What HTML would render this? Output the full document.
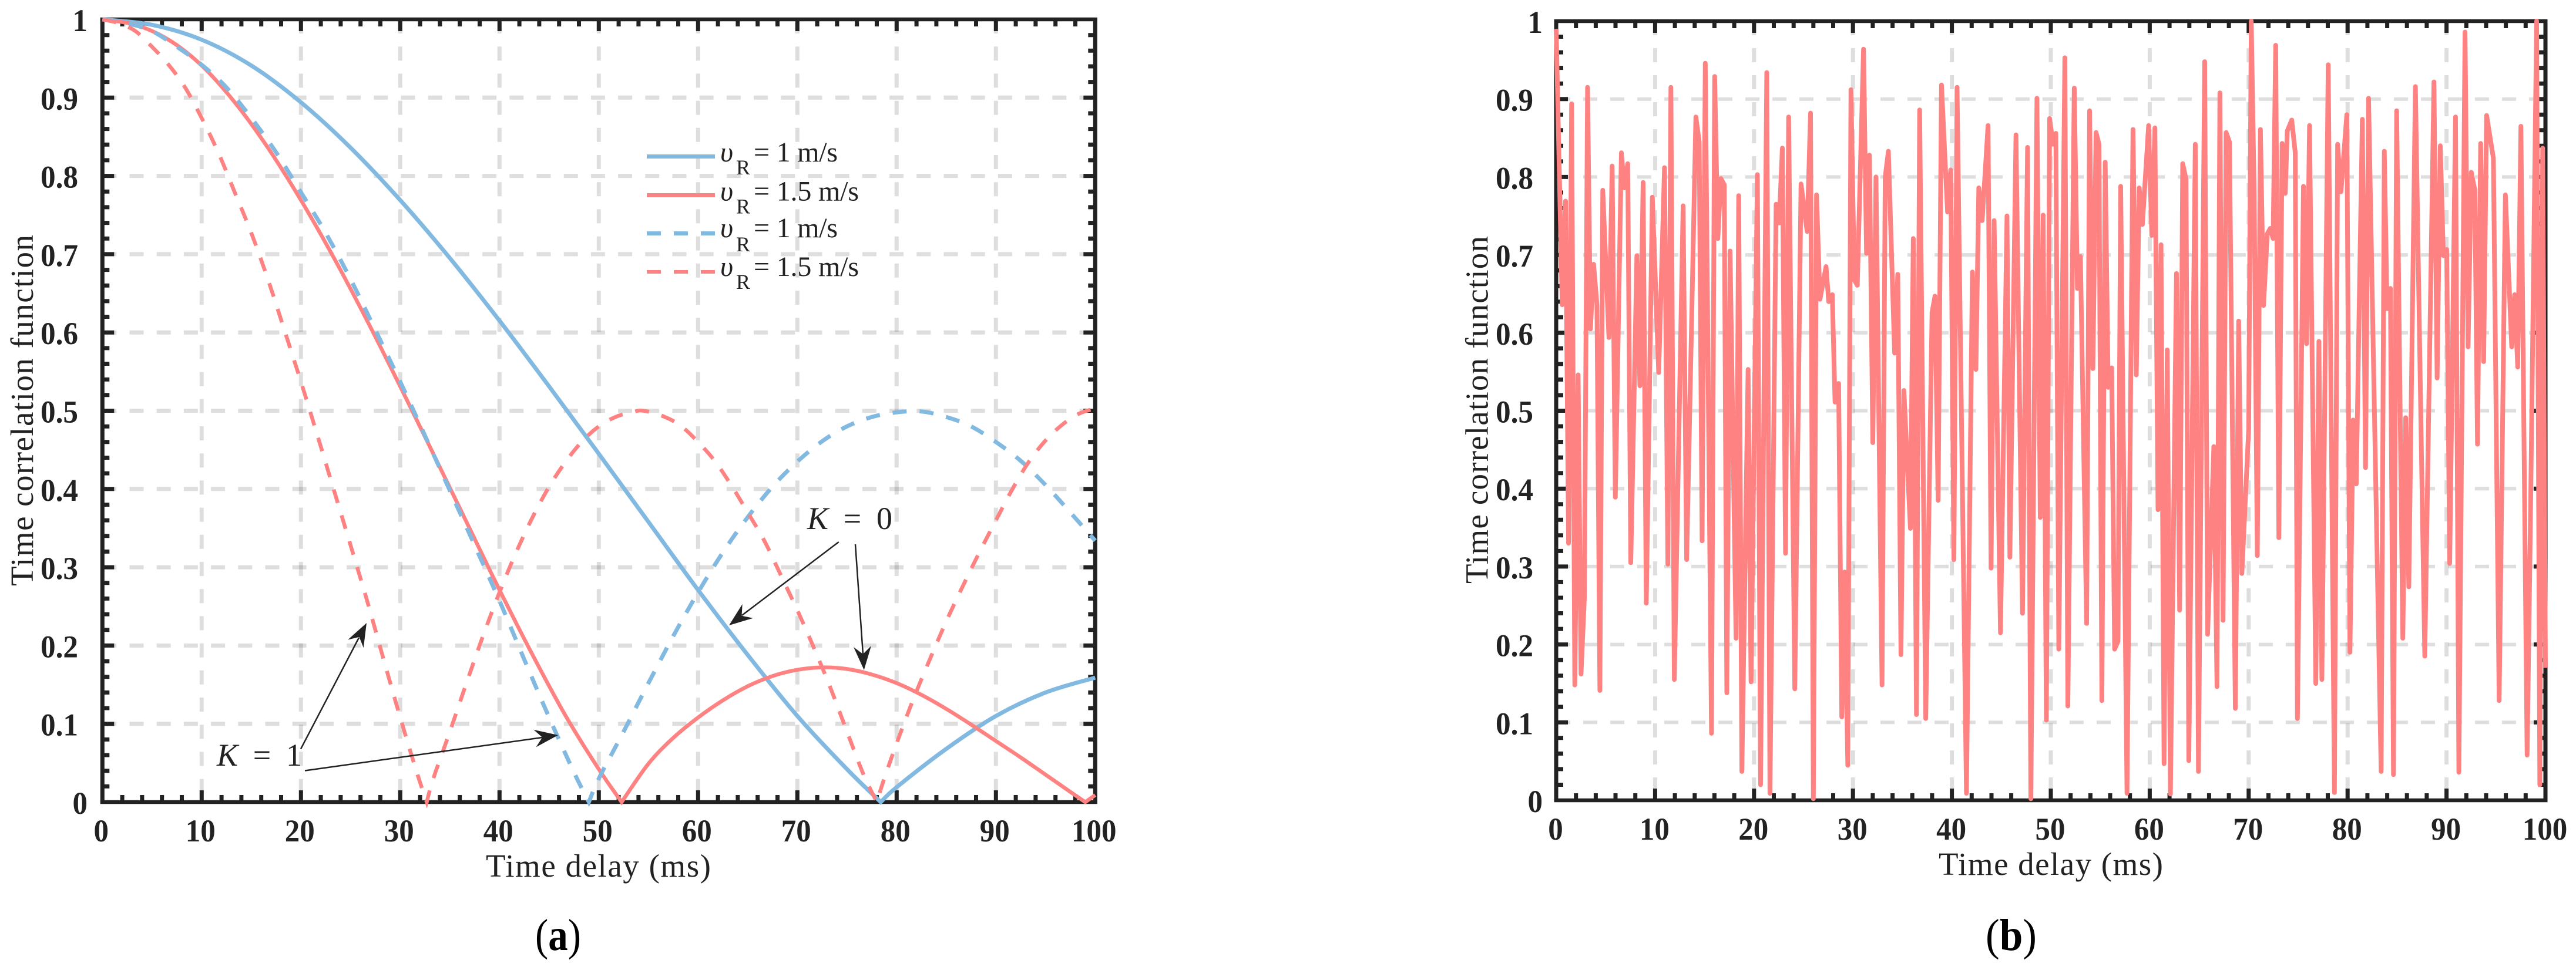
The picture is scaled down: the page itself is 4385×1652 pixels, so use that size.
<!DOCTYPE html>
<html lang="en">
<head>
<meta charset="utf-8">
<title>Time correlation function charts</title>
<style>
html,body{margin:0;padding:0;background:#fff;}
svg{display:block;}
text{font-family:"Liberation Serif",serif;fill:#222;}
.tick{font-weight:bold;font-size:54px;}
.axt{font-size:55px;}
.leg{font-size:48px;}
.sub{font-size:36px;}
.ann{font-size:54px;}
.cap{font-size:76px;fill:#000;font-weight:bold;}
</style>
</head>
<body>
<svg id="fig" xmlns="http://www.w3.org/2000/svg" width="4385" height="1652" viewBox="0 0 4385 1652">
  <rect x="0" y="0" width="4385" height="1652" fill="#fff"/>
  <g id="plotA"></g>
  <g id="plotB"></g>

  <g>
    <g>
      <line x1="1101" x2="1217" y1="266.5" y2="266.5" stroke="#82b9e1" stroke-width="7"/>
      <text class="leg" font-style="italic" x="1226" y="275">υ</text><text class="sub" x="1253" y="297">R</text>
      <text class="leg" x="1283" y="275" textLength="143" lengthAdjust="spacing">= 1 m/s</text>
    </g>
    <g>
      <line x1="1101" x2="1217" y1="332.5" y2="332.5" stroke="#ff8282" stroke-width="7"/>
      <text class="leg" font-style="italic" x="1226" y="341.5">υ</text><text class="sub" x="1253" y="363.5">R</text>
      <text class="leg" x="1283" y="341.5" textLength="179" lengthAdjust="spacing">= 1.5 m/s</text>
    </g>
    <g>
      <line x1="1101" x2="1217" y1="397.5" y2="397.5" stroke="#82b9e1" stroke-width="7" stroke-dasharray="24 22"/>
      <text class="leg" font-style="italic" x="1226" y="404">υ</text><text class="sub" x="1253" y="428">R</text>
      <text class="leg" x="1283" y="404" textLength="143" lengthAdjust="spacing">= 1 m/s</text>
    </g>
    <g>
      <line x1="1101" x2="1217" y1="463" y2="463" stroke="#ff8282" stroke-width="6" stroke-dasharray="24 22"/>
      <text class="leg" font-style="italic" x="1226" y="470">υ</text><text class="sub" x="1253" y="492">R</text>
      <text class="leg" x="1283" y="470" textLength="179" lengthAdjust="spacing">= 1.5 m/s</text>
    </g>
  </g>

  <g>
    <text class="ann" x="369" y="1304" textLength="145" lengthAdjust="spacing"><tspan font-style="italic">K</tspan> = 1</text>
    <text class="ann" x="1374" y="901" textLength="145" lengthAdjust="spacing"><tspan font-style="italic">K</tspan> = 0</text>
    <g>
      <line x1="512" y1="1275.5" x2="611" y2="1086" stroke="#222" stroke-width="2.5"/>
      <polygon points="624,1061 618.8,1103.3 611.5,1084.9 592.2,1089.5" fill="#222"/>
    </g>
    <g>
      <line x1="519" y1="1312.5" x2="923" y2="1256" stroke="#222" stroke-width="2.5"/>
      <polygon points="950,1252 912.5,1272.4 923.2,1255.8 908.3,1242.7" fill="#222"/>
    </g>
    <g>
      <line x1="1427.7" y1="923" x2="1263" y2="1048" stroke="#222" stroke-width="2.5"/>
      <polygon points="1241,1065 1281.9,1052.7 1262.5,1048.7 1263.7,1028.9" fill="#222"/>
    </g>
    <g>
      <line x1="1456" y1="927" x2="1469" y2="1114" stroke="#222" stroke-width="2.5"/>
      <polygon points="1470.8,1141 1483,1100 1469,1114 1453,1102" fill="#222"/>
    </g>
  </g>

  <text class="axt" x="827" y="1493" textLength="383" lengthAdjust="spacing">Time delay (ms)</text>
  <text class="axt" x="3300" y="1490" textLength="382" lengthAdjust="spacing">Time delay (ms)</text>
  <text class="axt" x="56" y="699" transform="rotate(-90 56 699)" text-anchor="middle" textLength="598" lengthAdjust="spacing">Time correlation function</text>
  <text class="axt" x="2532.7" y="698" transform="rotate(-90 2532.7 698)" text-anchor="middle" textLength="592" lengthAdjust="spacing">Time correlation function</text>
  <text class="cap" x="911" y="1618" textLength="78" lengthAdjust="spacingAndGlyphs"><tspan font-weight="normal">(</tspan>a<tspan font-weight="normal">)</tspan></text>
  <text class="cap" x="3380" y="1618" textLength="87" lengthAdjust="spacingAndGlyphs"><tspan font-weight="normal">(</tspan>b<tspan font-weight="normal">)</tspan></text>
</svg>

<script>
// ---- shared tick data ----
const xTickValues = [0,10,20,30,40,50,60,70,80,90,100];
const xTickLabels = ["0","10","20","30","40","50","60","70","80","90","100"];
const yTickValues = [0,0.1,0.2,0.3,0.4,0.5,0.6,0.7,0.8,0.9,1];
const yTickLabels = ["0","0.1","0.2","0.3","0.4","0.5","0.6","0.7","0.8","0.9","1"];

// ---- plot (a) series ----
const blueSolidDelay = [0,5,10,15,20,25,30,35,40,45,50,55,60,65,70,75,78.4,80,85,90,95,100];
const blueSolidValue = [1,0.993,0.974,0.941,0.894,0.836,0.769,0.695,0.615,0.531,0.445,0.358,0.271,0.188,0.11,0.042,0,0.019,0.068,0.11,0.14,0.159];

const redSolidDelay = [0,3.33,6.67,10,13.33,16.67,20,23.33,26.67,30,33.33,36.67,40,43.33,46.67,50,52.3,55,57.5,60,62.5,65,67.5,70,72.5,75,77.5,80,82.5,85,87.5,90,92.5,95,97.5,99,100];
const redSolidValue = [1,0.993,0.974,0.941,0.894,0.836,0.769,0.695,0.615,0.531,0.445,0.358,0.271,0.188,0.11,0.042,0,0.049,0.082,0.108,0.13,0.148,0.161,0.169,0.172,0.17,0.163,0.152,0.137,0.119,0.099,0.078,0.057,0.035,0.013,0,0.009];

const blueDashDelay = [0,2.5,5,7.5,10,12.5,15,17.5,20,22.5,25,27.5,30,32.5,35,37.5,40,42.5,45,47.5,49,50,52.5,55,57.5,60,62.5,65,67.5,70,72.5,75,77.5,80,82.5,85,87.5,90,92.5,95,97.5,100];
const blueDashValue = [1,0.995,0.985,0.965,0.942,0.913,0.874,0.83,0.779,0.727,0.668,0.603,0.537,0.468,0.398,0.328,0.257,0.182,0.108,0.038,0,0.03,0.09,0.152,0.212,0.268,0.319,0.364,0.403,0.435,0.461,0.48,0.492,0.498,0.499,0.492,0.48,0.46,0.436,0.405,0.37,0.334];

const redDashDelay = [0,1.67,3.33,5,6.67,8.33,10,11.67,13.33,15,16.67,18.33,20,21.67,23.33,25,26.67,28.33,30,31.67,32.67,33.33,35,36.67,38.33,40,41.67,43.33,45,46.67,48.33,50,51.67,53.33,54.5,56.67,58.33,60,61.67,63.33,65,66.67,68.33,70,71.67,73.33,75,76.67,78,78.7,80,81.67,83.33,85,86.67,88.33,90,91.67,93.33,95,96.67,98.33,100];
const redDashValue = [1,0.995,0.985,0.965,0.942,0.913,0.874,0.83,0.779,0.727,0.668,0.603,0.537,0.468,0.398,0.328,0.257,0.182,0.108,0.038,0,0.03,0.09,0.152,0.212,0.268,0.319,0.364,0.403,0.435,0.461,0.48,0.492,0.498,0.5,0.492,0.48,0.46,0.436,0.405,0.37,0.334,0.29,0.245,0.197,0.146,0.09,0.035,0,0.028,0.075,0.131,0.182,0.231,0.276,0.319,0.36,0.4,0.435,0.462,0.482,0.496,0.503];

// ---- plot (b) series ----
const noiseDelay = [0,0.61,0.95,1.25,1.56,1.88,2.22,2.51,2.85,3.17,3.47,3.78,4.12,4.42,4.71,5.33,5.66,5.98,6.59,6.89,7.23,7.54,8.16,8.46,8.79,9.11,9.72,10.36,10.95,11.29,11.6,11.94,12.83,13.19,14.12,14.46,14.75,15.07,15.7,16.02,16.34,16.65,16.99,17.25,17.58,18.18,
18.45,18.77,19.4,19.7,20.34,20.66,21.29,21.61,22.23,22.54,22.86,23.18,23.5,24.12,24.75,25.37,25.71,26,26.32,26.66,27.28,27.55,27.91,28.19,28.55,28.87,29.16,29.48,29.8,30.14,30.44,31.07,31.37,31.67,32.01,32.33,32.94,33.26,33.58,34.21,34.53,34.85,35.15,35.81,36.1,36.42,36.74,37.36,37.99,38.29,38.61,38.95,39.56,39.88,40.2,40.52,41.47,42.07,42.43,42.72,43.06,43.66,43.96,44.27,44.91,45.57,45.86,46.48,47.14,
47.65,47.98,48.6,48.93,49.23,49.55,49.88,50.22,50.51,50.81,51.42,51.72,52.37,52.69,52.99,53.62,53.92,54.25,54.57,54.87,55.16,55.5,55.8,56.15,56.45,56.79,57.06,57.7,58.31,58.64,58.94,59.26,59.89,60.21,60.52,60.84,61.14,61.45,61.77,62.09,62.7,63.02,63.33,63.67,63.95,64.6,64.92,65.55,65.85,66.48,66.8,67.09,67.41,67.72,68.06,68.65,68.99,69.31,70,70.26,70.55,70.87,71.19,71.5,71.88,72.18,72.47,72.73,73.05,73.38,73.7,73.9,74.35,74.71,74.93,
75.54,75.85,76.15,76.79,77.1,77.4,78.04,78.67,78.99,79.33,79.92,80.24,80.56,80.87,81.49,81.81,82.12,83.39,83.71,83.99,84.33,84.64,84.96,85.58,85.87,86.19,86.85,87.8,88.73,89.05,89.37,89.68,90.02,90.32,90.91,91.25,91.87,92.18,92.5,92.86,93.13,93.45,93.75,94.05,94.74,95.32,95.95,96.59,96.88,97.2,97.52,98.15,98.47,99.11,99.43,99.72,100];
const noiseValue = [0.99,0.636,0.769,0.33,0.894,0.148,0.546,0.162,0.26,0.915,0.605,0.688,0.636,0.141,0.783,0.594,0.814,0.389,0.831,0.786,0.817,0.305,0.699,0.532,0.793,0.253,0.774,0.549,0.812,0.303,0.915,0.155,0.763,0.309,0.877,0.845,0.333,0.946,0.086,0.929,0.721,0.798,0.79,0.138,0.705,0.208,
0.776,0.037,0.553,0.152,0.803,0.02,0.934,0.009,0.765,0.741,0.837,0.317,0.877,0.143,0.791,0.73,0.882,0.002,0.777,0.643,0.685,0.64,0.649,0.511,0.535,0.107,0.293,0.045,0.912,0.668,0.661,0.964,0.702,0.828,0.459,0.8,0.148,0.8,0.833,0.574,0.675,0.187,0.526,0.349,0.721,0.11,0.886,0.105,0.626,0.647,0.385,0.918,0.755,0.809,0.309,0.915,0.009,0.678,0.553,0.786,0.744,0.866,0.298,0.744,0.215,0.75,0.312,0.854,0.24,
0.838,0.002,0.901,0.363,0.751,0.103,0.875,0.842,0.856,0.194,0.953,0.121,0.914,0.657,0.698,0.227,0.885,0.554,0.857,0.842,0.128,0.819,0.53,0.555,0.194,0.204,0.788,0.009,0.861,0.546,0.786,0.739,0.866,0.725,0.863,0.373,0.713,0.047,0.578,0.008,0.676,0.244,0.817,0.797,0.051,0.842,0.037,0.948,0.213,0.454,0.146,0.908,0.231,0.857,0.845,0.118,0.615,0.291,0.476,1,0.783,0.314,0.861,0.635,0.727,0.734,0.721,0.969,0.337,0.843,0.779,0.859,0.873,0.831,0.105,
0.788,0.586,0.866,0.15,0.589,0.155,0.944,0.01,0.842,0.781,0.88,0.19,0.488,0.406,0.874,0.427,0.901,0.037,0.833,0.631,0.657,0.033,0.885,0.208,0.491,0.274,0.916,0.185,0.922,0.542,0.84,0.699,0.707,0.304,0.877,0.036,0.986,0.582,0.806,0.783,0.457,0.843,0.563,0.879,0.824,0.128,0.777,0.582,0.649,0.556,0.865,0.058,0.344,1,0.02,0.837,0.17];

// ---- axis functions ----
function xA(v){ return 174.3 + 16.9 * v; }
function yA(v){ return 1366 - 1333 * v; }
function xB(v){ return 2649 + 16.84 * v; }
function yB(v){ return 1363 - 1327 * v; }

const NS = "http://www.w3.org/2000/svg";
const INK = "#222";
const BLUE = "#82b9e1";
const RED = "#ff8282";

function mk(parent, tag, attrs, txt){
  const el = document.createElementNS(NS, tag);
  for (const k in attrs) el.setAttribute(k, attrs[k]);
  if (txt !== undefined) el.textContent = txt;
  parent.appendChild(el);
  return el;
}

// smooth path through points, breaking at zero-crossing cusps
function smoothPath(xs, ys, fx, fy){
  const pts = xs.map((x,i)=>[fx(x), fy(ys[i]), ys[i]]);
  let d = "M" + pts[0][0].toFixed(1) + " " + pts[0][1].toFixed(1);
  for (let i=0;i<pts.length-1;i++){
    const p1=pts[i], p2=pts[i+1];
    const p0 = (i===0 || p1[2]===0) ? p1 : pts[i-1];
    const p3 = (i+2>=pts.length || p2[2]===0) ? p2 : pts[i+2];
    const c1x=p1[0]+(p2[0]-p0[0])/6, c1y=p1[1]+(p2[1]-p0[1])/6;
    const c2x=p2[0]-(p3[0]-p1[0])/6, c2y=p2[1]-(p3[1]-p1[1])/6;
    d += "C"+c1x.toFixed(1)+" "+c1y.toFixed(1)+" "+c2x.toFixed(1)+" "+c2y.toFixed(1)+" "+p2[0].toFixed(1)+" "+p2[1].toFixed(1);
  }
  return d;
}

function tickLabelWidth(s){
  let w = 0;
  for (const c of s) w += (c === ".") ? 13 : 25.5;
  return w;
}

function drawFrame(g, fx, fy, period, opts){
  const x0=fx(0), x1=fx(100), y0=fy(0), y1=fy(1);
  const dash = "24 " + (period-24).toFixed(1);

  // grid
  xTickValues.forEach((t)=>{
    if (t===0 || t===100) return;
    const l = mk(g,"line",{x1:fx(t),x2:fx(t),y1:y1,y2:y0,stroke:"#000","stroke-opacity":"0.13","stroke-width":7,"stroke-dasharray":dash});
    
    
  });
  yTickValues.forEach((t)=>{
    if (t===0 || t===1) return;
    const l = mk(g,"line",{x1:x0,x2:x1,y1:fy(t),y2:fy(t),stroke:"#000","stroke-opacity":"0.13","stroke-width":opts.hGrid,"stroke-dasharray":dash});
    
    
  });

  // frame
  const frame = mk(g,"path",{d:"M"+(x0-3.5)+" "+y1+"H"+(x1+3.5)+"M"+(x0-3.5)+" "+y0+"H"+(x1+3.5),stroke:INK,"stroke-width":6.5,fill:"none"});
  
  
  const frameV = mk(g,"path",{d:"M"+x0+" "+(y1-3)+"V"+(y0+3)+"M"+x1+" "+(y1-3)+"V"+(y0+3),stroke:INK,"stroke-width":7,fill:"none"});
  
  

  // x ticks: every 2 ms, long every 10 ms, on both horizontal edges
  let d = "";
  for (let i=1;i<50;i++){
    const v=i*2, len=(i%5===0)?20:12, px=fx(v).toFixed(1);
    d += "M"+px+" "+y0+"V"+(y0-len)+"M"+px+" "+y1+"V"+(y1+len);
  }
  const xt = mk(g,"path",{d:d,stroke:INK,"stroke-width":7,fill:"none"});
  
  

  // y ticks: every 0.02, long every 0.1, on both vertical edges
  d = "";
  for (let i=1;i<50;i++){
    const v=i*0.02, len=(i%5===0)?20:12, py=fy(v).toFixed(1);
    d += "M"+x0+" "+py+"H"+(x0+len)+"M"+x1+" "+py+"H"+(x1-len);
  }
  const yt = mk(g,"path",{d:d,stroke:INK,"stroke-width":7,fill:"none"});
  
  

  // tick labels
  xTickValues.forEach((t,i)=>{
    const s = xTickLabels[i];
    const el = mk(g,"text",{class:"tick",x:(fx(t)+opts.xLabelShift).toFixed(1),y:opts.xLabelBase,"text-anchor":"middle",textLength:tickLabelWidth(s),lengthAdjust:"spacingAndGlyphs"},s);
    
    
  });
  yTickValues.forEach((t,i)=>{
    const s = yTickLabels[i];
    const isWhole = (s.length===1);
    const el = mk(g,"text",{class:"tick",x:isWhole?opts.yLabelWhole:opts.yLabelFrac,y:(fy(t)+20).toFixed(1),"text-anchor":"end",textLength:tickLabelWidth(s),lengthAdjust:"spacingAndGlyphs"},s);
    
    
  });
}

const plotA = document.getElementById("plotA");
const plotB = document.getElementById("plotB");

drawFrame(plotA, xA, yA, 46.2, {hGrid:7, xLabelShift:-2, xLabelBase:1433, yLabelWhole:149, yLabelFrac:133});
drawFrame(plotB, xB, yB, 46, {hGrid:6, xLabelShift:-1, xLabelBase:1430, yLabelWhole:2626, yLabelFrac:2610});

// plot (a) curves
const blueSolid = mk(plotA,"path",{d:smoothPath(blueSolidDelay,blueSolidValue,xA,yA),fill:"none",stroke:BLUE,"stroke-width":7});



const redSolid = mk(plotA,"path",{d:smoothPath(redSolidDelay,redSolidValue,xA,yA),fill:"none",stroke:RED,"stroke-width":6.5});



const blueDash = mk(plotA,"path",{d:smoothPath(blueDashDelay,blueDashValue,xA,yA),fill:"none",stroke:BLUE,"stroke-width":7,"stroke-dasharray":"24 22"});



const redDash = mk(plotA,"path",{d:smoothPath(redDashDelay,redDashValue,xA,yA),fill:"none",stroke:RED,"stroke-width":6.5,"stroke-dasharray":"24 22"});



// plot (b) curve
const noisePts = noiseDelay.map((x,i)=>xB(x).toFixed(1)+","+yB(noiseValue[i]).toFixed(1)).join(" ");
const noise = mk(plotB,"polyline",{points:noisePts,fill:"none",stroke:RED,"stroke-width":8,"stroke-linejoin":"round"});


</script>
</body>
</html>
